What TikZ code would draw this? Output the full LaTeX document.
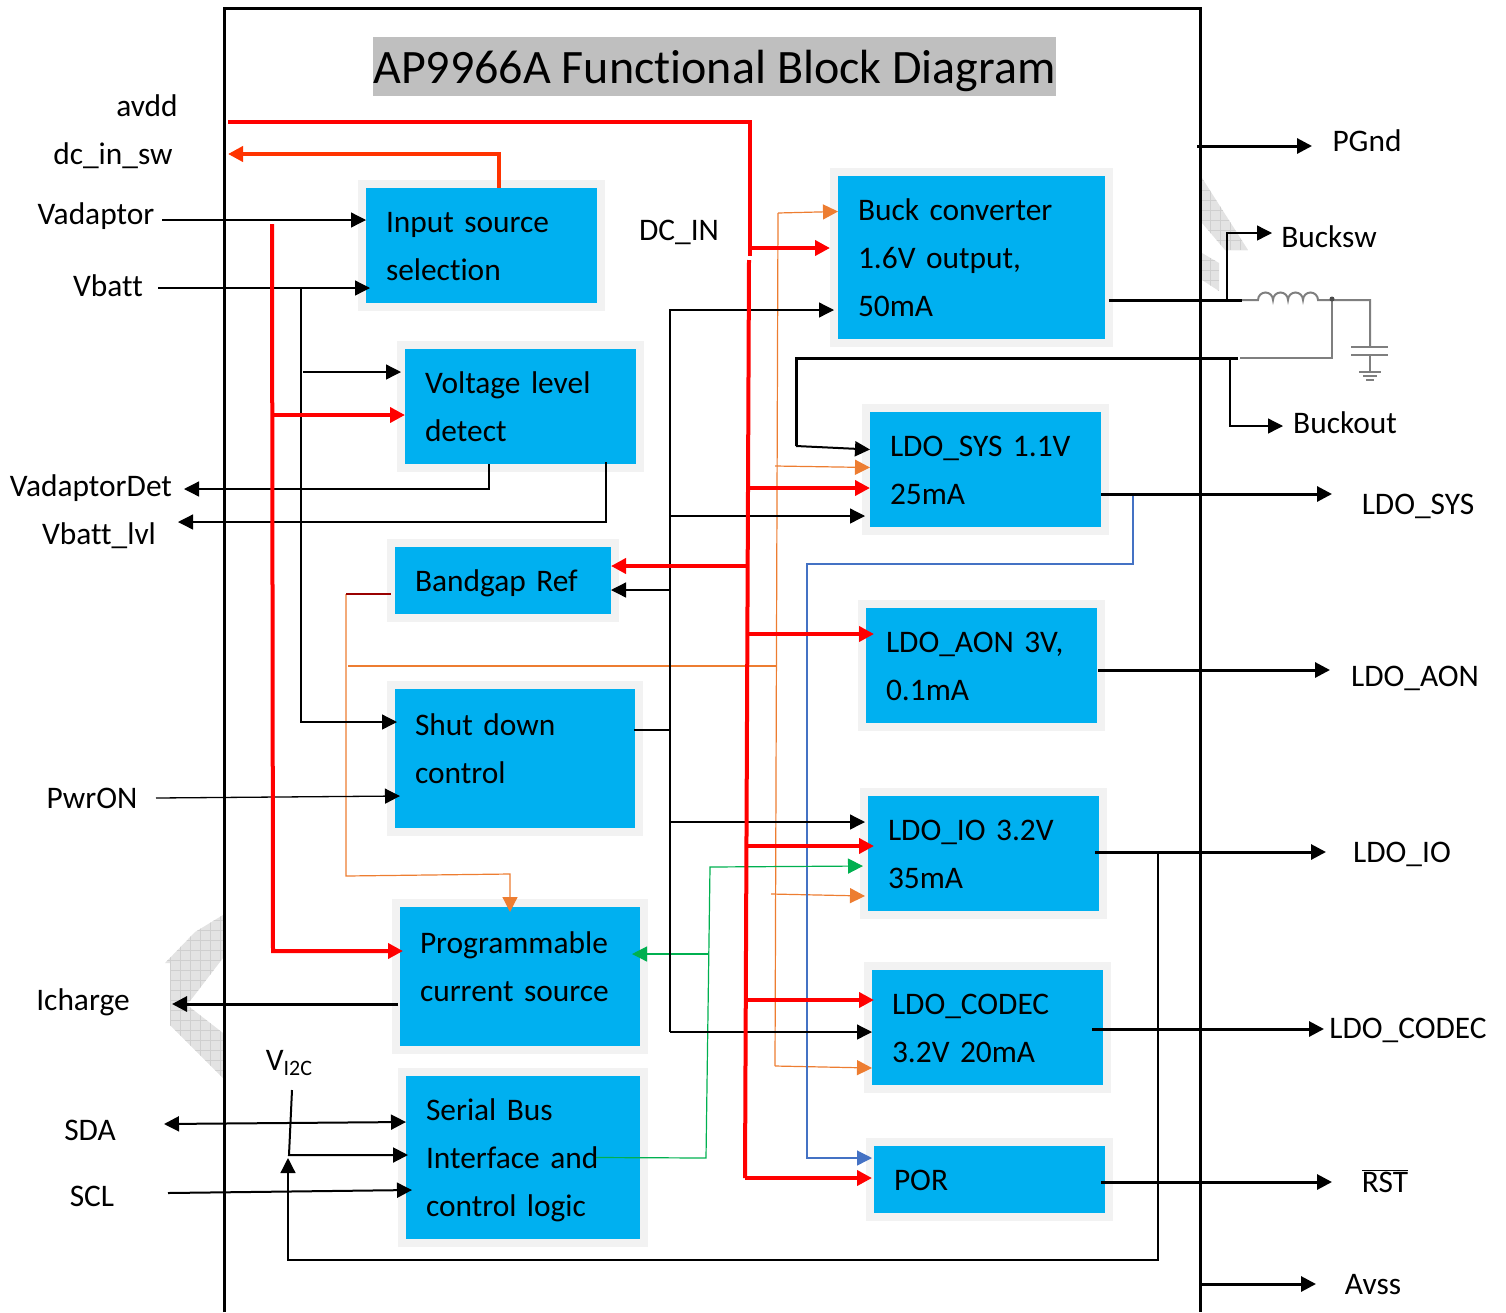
\documentclass[tikz,border=0pt]{standalone}
\usepackage{fontspec}
\setmainfont[Ligatures=NoCommon]{Carlito}
\usetikzlibrary{arrows.meta,positioning}
\definecolor{boxblue}{HTML}{00B0F0}
\definecolor{boxhalo}{HTML}{F2F2F2}
\definecolor{wireorange}{HTML}{ED7D31}
\definecolor{wireblue}{HTML}{4472C4}
\definecolor{wiregreen}{HTML}{00B050}
\definecolor{wiregray}{HTML}{7F7F7F}
\definecolor{lowred}{HTML}{FF3300}
\tikzset{
  >={Triangle[length=15pt,width=15pt]},
  bluebox/.style 2 args={fill=boxblue, preaction={draw=boxhalo, line width=16pt}, outer sep=0pt,
    minimum width=#1, minimum height=#2, inner xsep=20pt, inner ysep=0pt, text width=#1-40pt,
    align=left, font=\fontsize{31.4}{48}\selectfont,
    execute at begin node=\rule{0pt}{30pt},
    execute at end node=\rule[-8pt]{0pt}{8pt}},
  pinlabel/.style={font=\fontsize{31.4}{36}\selectfont, inner sep=0pt, text height=28pt, text depth=8pt},
  redwire/.style={red, line width=4pt},
  thinwire/.style={black, line width=1.3pt},
  powerwire/.style={black, line width=3pt},
  orangewire/.style={wireorange, line width=1.2pt},
  bluewire/.style={wireblue, line width=1.2pt},
  greenwire/.style={wiregreen, line width=1.2pt},
  graywire/.style={wiregray, line width=2pt},
  hatched/.style={fill=gray!22, path picture={\draw[gray!38, line width=0.8pt, step=10pt]
    (path picture bounding box.south west) grid (path picture bounding box.north east);}},
}
\begin{document}
\begin{tikzpicture}[x=1pt, y=-1pt]
\useasboundingbox (0,0) rectangle (1506,1312);

% Hatched shapes behind the frame
\path[hatched] (1202,178) -- (1248,250) -- (1225,250) -- (1202,223) -- cycle;
\path[hatched] (1202,253) -- (1219,263) -- (1219,291) -- (1202,280) -- cycle;
\path[hatched] (223,915) -- (195,932) -- (165,963) -- (170,963) -- (170,1025) -- (223,1078)
  -- (223,1033) -- (187,1005) -- (223,958) -- cycle;

% Chip outline and title
\draw[line width=3pt] (224,1312) -- (224,8) -- (1200,8) -- (1200,1312);
\node[fill=gray!50, minimum width=683pt, minimum height=59pt, inner sep=0pt, text height=40pt, text depth=6pt,
  font=\fontsize{48}{50}\selectfont] (title) at (714.5,66.5) {AP9966A Functional Block Diagram};

% Blocks
\node[bluebox={231pt}{115pt}] (input) at (481.5,245.5) {Input source\\selection};
\node[bluebox={267pt}{163pt}] (buck) at (971.5,257.5) {Buck converter\\1.6V output,\\50mA};
\node[bluebox={231pt}{115pt}] (voltage) at (520.5,406.5) {Voltage level\\detect};
\node[bluebox={231pt}{115pt}] (ldosys) at (985.5,469.5) {LDO\_SYS 1.1V\\25mA};
\node[bluebox={216pt}{67pt}] (bandgap) at (503,580.5) {Bandgap Ref};
\node[bluebox={231pt}{115pt}] (ldoaon) at (981.5,665.5) {LDO\_AON 3V,\\0.1mA};
\node[bluebox={240pt}{139pt}] (shutdown) at (515,758.5) {Shut down\\control\rule[-29pt]{0pt}{29pt}};
\node[bluebox={231pt}{115pt}] (ldoio) at (983.5,853.5) {LDO\_IO 3.2V\\35mA};
\node[bluebox={240pt}{139pt}] (current) at (520,976.5) {Programmable\\current source\rule[-29pt]{0pt}{29pt}};
\node[bluebox={231pt}{115pt}] (ldocodec) at (987.5,1027.5) {LDO\_CODEC\\3.2V 20mA};
\node[bluebox={234pt}{163pt}] (serial) at (523,1157.5) {Serial Bus\\Interface and\\control logic};
\node[bluebox={231pt}{67pt}] (por) at (989.5,1179.5) {POR};

% Pin labels
\node[pinlabel] (avdd) at (147,106) {avdd};
\node[pinlabel] (dcinsw) at (113,154) {dc\_in\_sw};
\node[pinlabel] (vadaptor) at (96,214) {Vadaptor};
\node[pinlabel] (vbatt) at (108,286) {Vbatt};
\node[pinlabel] (vadaptordet) at (91,486) {VadaptorDet};
\node[pinlabel] (vbattlvl) at (99,534) {Vbatt\_lvl};
\node[pinlabel] (pwron) at (92,798) {PwrON};
\node[pinlabel] (icharge) at (83,1000) {Icharge};
\node[pinlabel] (vitwoc) at (289,1060) {V\raisebox{-5pt}{\fontsize{22}{22}\selectfont I2C}};
\node[pinlabel] (sda) at (90,1130) {SDA};
\node[pinlabel] (scl) at (92,1196) {SCL};
\node[pinlabel] (dcin) at (679,230) {DC\_IN};
\node[pinlabel] (pgnd) at (1367,141) {PGnd};
\node[pinlabel] (bucksw) at (1329,237) {Bucksw};
\node[pinlabel] (buckout) at (1345,423) {Buckout};
\node[pinlabel] (lblsys) at (1418,504) {LDO\_SYS};
\node[pinlabel] (lblaon) at (1415,676) {LDO\_AON};
\node[pinlabel] (lblio) at (1402,852) {LDO\_IO};
\node[pinlabel] (lblcodec) at (1408,1028) {LDO\_CODEC};
\node[pinlabel] (lblrst) at (1385,1182) {$\overline{\hbox{RST}}$};
\node[pinlabel] (avss) at (1373,1284) {Avss};

% Free ends of the wires
\coordinate (avddin) at (228,122);
\coordinate (redknee) at (750,122);
\coordinate (redlow) at (745,1178);
\coordinate (swin) at (228,154);
\coordinate (leftredtop) at (272,224);
\coordinate (leftredknee) at (273,951);
\coordinate (vadin) at (162,220);
\coordinate (vbatin) at (158,288);
\coordinate (vbatdrop) at (301,288);
\coordinate (vbatknee) at (301,722);
\coordinate (detout) at (184,489);
\coordinate (lvlout) at (178,522);
\coordinate (pwrin) at (156,798);
\coordinate (bustop) at (670,310);
\coordinate (busend) at (670,1032);
\coordinate (ichgout) at (172,1004);
\coordinate (sdaout) at (164,1124);
\coordinate (sclin) at (168,1193);
\coordinate (vitwotop) at (292,1090);
\coordinate (vitwoknee) at (289,1155);
\coordinate (fbtap) at (1158,852);
\coordinate (fbcorner) at (1158,1260);
\coordinate (fbleft) at (288,1260);
\coordinate (fbtip) at (288,1158);
\coordinate (pgndin) at (1197,146);
\coordinate (pgndout) at (1312,146);
\coordinate (sysout) at (1332,494);
\coordinate (aonout) at (1330,670);
\coordinate (ioout) at (1326,852);
\coordinate (codecout) at (1324,1029);
\coordinate (rstout) at (1332,1182);
\coordinate (avssin) at (1199,1284);
\coordinate (avssout) at (1316,1284);
\coordinate (coilin) at (1242,300);
\coordinate (outdot) at (1332,299);
\coordinate (fbgray) at (1240,358);
\coordinate (buckfb) at (1238,358);
\coordinate (orangetop) at (778,213);
\coordinate (orangelow) at (775,1066);
\coordinate (bluedrop) at (1133,564);
\coordinate (blueknee) at (807,564);
\coordinate (bluelow) at (807,1158);

% Orange wires
\draw[orangewire] (orangelow) -- (orangetop);
\draw[orangewire, ->] (orangetop) -- ([yshift=46pt]buck.west);
\draw[orangewire, ->] (775,466) -- ([yshift=2pt]ldosys.west);
\draw[orangewire, ->] (771,894) -- ([xshift=-3pt,yshift=-42.5pt]ldoio.west);
\draw[orangewire, ->] (orangelow) -- ([yshift=-40.5pt]ldocodec.west);
\draw[orangewire] (348,666) -- (776,666);
\draw[orangewire, ->] (346,594) -- (346,876) -- (510,874) -- ([xshift=-10pt,yshift=-5pt]current.north);
\draw[red!60!black, line width=1.2pt] (346,594) -- ([yshift=-13.5pt,xshift=-4pt]bandgap.west);

% Blue and green wires
\draw[bluewire, ->] ([yshift=-24.5pt,xshift=32pt]ldosys.east) -- (bluedrop) -- (blueknee) -- (bluelow) -- ([xshift=-2pt,yshift=21.5pt]por.west);
\draw[greenwire, ->] ([xshift=-44pt]serial.east) -- (706,1158) -- (710,867) -- ([xshift=-5pt,yshift=-12.5pt]ldoio.west);
\draw[greenwire, ->] (708,954) -- ([xshift=-8pt,yshift=22.5pt]current.east);

% Black thin wires
\draw[thinwire, ->] (vadin) -- ([yshift=25.5pt]input.west);
\draw[thinwire, ->] (vbatin) -- ([xshift=4pt,yshift=-42.5pt]input.west);
\draw[thinwire, ->] (vbatdrop) -- (vbatknee) -- ([xshift=2pt,yshift=36.5pt]shutdown.west);
\draw[thinwire, ->] (303,372) -- ([yshift=34.5pt,xshift=-4pt]voltage.west);
\draw[thinwire, ->] ([xshift=-31.5pt]voltage.south) -- (489,489) -- (detout);
\draw[thinwire, ->] ([xshift=85.5pt,yshift=2pt]voltage.south) -- (606,522) -- (lvlout);
\draw[thinwire, ->] (pwrin) -- ([xshift=5pt,yshift=-37.5pt]shutdown.west);
\draw[thinwire, ->] (busend) -- (bustop) -- ([xshift=-4pt,yshift=-52.5pt]buck.west);
\draw[thinwire, ->] (busend) -- ([yshift=-4.5pt]ldocodec.west);
\draw[thinwire, ->] (670,516) -- ([xshift=-5pt,yshift=-46.5pt]ldosys.west);
\draw[thinwire, ->] (670,590) -- ([yshift=-9.5pt]bandgap.east);
\draw[thinwire] ([xshift=-1pt,yshift=28.5pt]shutdown.east) -- (670,730);
\draw[thinwire, ->] (670,822) -- ([xshift=-3pt,yshift=31.5pt]ldoio.west);
\draw[thinwire, ->] (1227,300) -- (1227,233) -- (1272,233);
\draw[thinwire, ->] (1230,358) -- (1230,426) -- (1283,426);
\draw[thinwire, ->] (fbtap) -- (fbcorner) -- (fbleft) -- (fbtip);
\draw[powerwire, line width=2pt, <->] (sdaout) -- ([yshift=35.5pt]serial.west);
\draw[powerwire, line width=2pt, ->] (sclin) -- ([xshift=6pt,yshift=-32.5pt]serial.west);
\draw[powerwire, line width=2pt, ->] (vitwotop) -- (vitwoknee) -- ([xshift=2pt,yshift=2.5pt]serial.west);

% Black power wires
\draw[powerwire, ->] (pgndin) -- (pgndout);
\draw[powerwire, ->] ([xshift=-2pt,yshift=-27.5pt]current.west) -- (ichgout);
\draw[powerwire, ->] ([yshift=-24.5pt]ldosys.east) -- (sysout);
\draw[powerwire, ->] ([xshift=1pt,yshift=-4.5pt]ldoaon.east) -- (aonout);
\draw[powerwire, ->] ([xshift=-4pt,yshift=1.5pt]ldoio.east) -- (ioout);
\draw[powerwire, ->] ([xshift=-11pt,yshift=-1.5pt]ldocodec.east) -- (codecout);
\draw[powerwire, ->] ([xshift=-4pt,yshift=-2.5pt]por.east) -- (rstout);
\draw[powerwire, ->] (avssin) -- (avssout);

% Buck output and its filter
\draw[powerwire] ([xshift=4pt,yshift=-42.5pt]buck.east) -- (coilin);
\draw[powerwire] (buckfb) -- (796,358) -- (796,446);
\draw[powerwire, line width=2pt, ->] (796,446) -- ([yshift=20pt]ldosys.west);
\draw[graywire] (coilin) -- (1258,300) arc (180:360:7.5) arc (180:360:7.5) arc (180:360:7.5) arc (180:360:7.5)
  -- (1370,300) -- (1370,347);
\draw[graywire] (outdot) -- (1332,358) -- (fbgray);
\fill[black!70] (outdot) circle (2.5);
\draw[graywire] (1351,347) -- (1388,347);
\draw[graywire] (1351,355) -- (1388,355);
\draw[graywire] (1370,355) -- (1370,372);
\draw[graywire] (1359,372) -- (1381,372);
\draw[graywire] (1363,376) -- (1377,376);
\draw[graywire] (1366,380) -- (1374,380);

% Red supply wires
\draw[redwire, ->, draw=lowred] ([xshift=17.5pt]input.north) -- (499,154) -- (swin);
\draw[redwire] (avddin) -- (redknee) -- (750,256);
\draw[redwire, ->] (750,248) -- ([xshift=-8pt,yshift=9.5pt]buck.west);
\draw[redwire] (749,260) -- (redlow);
\draw[redwire, ->] (leftredtop) -- (leftredknee) -- ([xshift=3pt,yshift=25.5pt]current.west);
\draw[redwire, ->] (272,415) -- ([yshift=-8.5pt]voltage.west);
\draw[redwire, ->] (748,488) -- ([yshift=-18.5pt]ldosys.west);
\draw[redwire, ->] (748,566) -- ([yshift=14.5pt]bandgap.east);
\draw[redwire, ->] (748,634) -- ([xshift=8pt,yshift=31.5pt]ldoaon.west);
\draw[redwire, ->] (746,846) -- ([xshift=6pt,yshift=7.5pt]ldoio.west);
\draw[redwire, ->] (746,1000) -- ([xshift=2pt,yshift=27.5pt]ldocodec.west);
\draw[redwire, ->] (redlow) -- ([xshift=-2pt,yshift=1.5pt]por.west);
\end{tikzpicture}
\end{document}
